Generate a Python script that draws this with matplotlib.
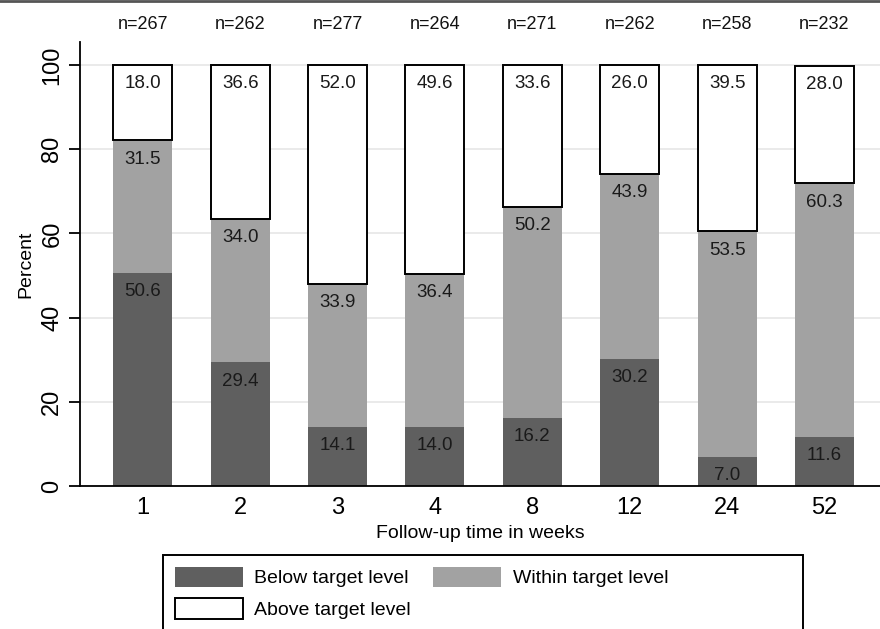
import matplotlib
matplotlib.use("Agg")
import matplotlib.pyplot as plt
import matplotlib.transforms as mtransforms
from matplotlib.lines import Line2D
from matplotlib.patches import Patch, Rectangle
import numpy as np

plt.rcParams['font.family'] = ['Liberation Sans', 'DejaVu Sans']

weeks = ["1", "2", "3", "4", "8", "12", "24", "52"]
n_counts = [267, 262, 277, 264, 271, 262, 258, 232]
below = [50.6, 29.4, 14.1, 14.0, 16.2, 30.2, 7.0, 11.6]
within = [31.5, 34.0, 33.9, 36.4, 50.2, 43.9, 53.5, 60.3]
above = [18.0, 36.6, 52.0, 49.6, 33.6, 26.0, 39.5, 28.0]
series_names = ["Below target level", "Within target level", "Above target level"]

dark = "#5f5f5f"
light = "#a2a2a2"

fig = plt.figure(figsize=(8.8, 6.29), dpi=100)
ax = fig.add_axes([80/880, 1-486/629, 1-80/880, (486-42)/629])

x = np.arange(len(weeks))
w = 0.606
b1 = ax.bar(x, below, w, color=dark, edgecolor='none', zorder=2)
b2 = ax.bar(x, within, w, bottom=below, color=light, edgecolor='none', zorder=2)
bot3 = np.array(below) + np.array(within)
b3 = ax.bar(x, above, w, bottom=bot3, color='white', edgecolor='black', linewidth=1.4, zorder=3)

# value labels near top of each segment
for i in range(len(weeks)):
    tops = [below[i], below[i] + within[i], below[i] + within[i] + above[i]]
    vals = [below[i], within[i], above[i]]
    for t, v in zip(tops, vals):
        ax.annotate(f"{v:.1f}", xy=(x[i], t), xytext=(0, -13.5), textcoords='offset points',
                    ha='center', va='center', fontsize=13.5, color='#1a1a1a', zorder=5)

# n labels above axes
trans = mtransforms.blended_transform_factory(ax.transData, ax.transAxes)
for i, n in enumerate(n_counts):
    ax.annotate(f"n={n}", xy=(x[i], 1.0), xycoords=trans, xytext=(0, 12.5), textcoords='offset points',
                ha='center', va='center', fontsize=13, color='#111111', annotation_clip=False)

ax.set_xlim(-0.645, 7.57)
ax.set_ylim(0, 105.5)
ax.set_yticks([0, 20, 40, 60, 80, 100])
ax.set_xticks(x)
ax.set_xticklabels(weeks)
ax.yaxis.grid(True, color='#e6e6e6', linewidth=1.2, zorder=0)
ax.set_axisbelow(True)
for s in ['top', 'right']:
    ax.spines[s].set_visible(False)
ax.spines['left'].set_linewidth(1.3)
ax.spines['bottom'].set_linewidth(1.3)
ax.tick_params(axis='y', length=8, width=1.3, labelsize=17, labelrotation=90, pad=4)
for lab in ax.get_yticklabels():
    lab.set_va('center')
ax.tick_params(axis='x', length=0, labelsize=17, pad=8)
ax.set_ylabel("Percent", fontsize=14, labelpad=5)
ax.set_xlabel("Follow-up time in weeks", fontsize=14, labelpad=4)

handles = [Patch(facecolor=dark, edgecolor='none'),
           Patch(facecolor='white', edgecolor='black', linewidth=1.4),
           Patch(facecolor=light, edgecolor='none')]
labels = [series_names[0], series_names[2], series_names[1]]
leg = fig.legend(handles, labels, ncol=2, loc='upper left',
                 bbox_to_anchor=(163/880, 1-555/629), fontsize=14,
                 handlelength=3.5, handleheight=1.25, handletextpad=0.6,
                 columnspacing=1.15, borderpad=0.6, labelspacing=0.55,
                 frameon=False, borderaxespad=0)
fig.add_artist(Rectangle((163/880, -0.02), (803-163)/880, 0.02 + (629-555)/629,
                         transform=fig.transFigure, facecolor='none',
                         edgecolor='black', linewidth=1.4))

fig.add_artist(Line2D([0, 1], [0.998, 0.998], transform=fig.transFigure, color='#555555', linewidth=2))

fig.savefig("out.png", dpi=100)
